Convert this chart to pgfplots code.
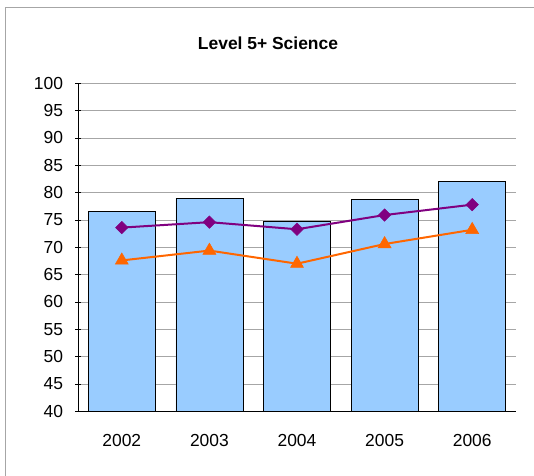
\documentclass[border=0pt]{standalone}
\usepackage{fontspec}
\setmainfont{Liberation Sans}
\usepackage{pgfplots}
\pgfplotsset{compat=1.18}
\definecolor{barblue}{RGB}{153,204,255}
\definecolor{kspurple}{RGB}{128,0,128}
\definecolor{ksorange}{RGB}{255,102,0}
\begin{document}
\begin{tikzpicture}[x=1bp,y=1bp]
  \begin{axis}[
    at={(78bp,64.7bp)}, anchor=south west,
    scale only axis,
    width=438bp, height=328bp,
    xmin=-0.5, xmax=4.5,
    ymin=40, ymax=100,
    ytick={40,45,...,100},
    xtick={0,1,2,3,4},
    xticklabels={2002,2003,2004,2005,2006},
    extra x ticks={-0.5,0.5,1.5,2.5,3.5,4.5},
    extra x tick labels={},
    extra x tick style={major tick length=7bp, tick style={black, line width=0.8bp}},
    x tick style={draw=none},
    y tick style={black, line width=0.8bp},
    major tick length=5bp,
    tick align=outside,
    axis x line=bottom, axis y line=left,
    axis line style={-, black, line width=0.8bp},
    ymajorgrids,
    grid style={gray!70, line width=0.7bp},
    /pgf/number format/assume math mode=true,
    tick label style={font=\fontsize{17.5}{20}\selectfont},
    xticklabel style={yshift=-17bp},
    yticklabel style={xshift=-9bp},
  ]
    \addplot[ybar, bar width=67bp, fill=barblue, draw=black, line width=0.7bp] coordinates {
      (0,76.6) (1,79.0) (2,74.8) (3,78.7) (4,82.1)
    };
    \addplot[kspurple, line width=2bp, mark=square*, mark size=4.4bp, mark options={rotate=45, fill=kspurple, draw=kspurple, line width=0.5bp}] coordinates {
      (0,73.6) (1,74.6) (2,73.3) (3,75.9) (4,77.8)
    };
    \addplot[ksorange, line width=2bp, mark=triangle*, mark size=7.5bp, mark options={fill=ksorange, draw=ksorange, line width=0.5bp}] coordinates {
      (0,67.6) (1,69.4) (2,67.0) (3,70.6) (4,73.2)
    };
  \end{axis}
  \node[font=\bfseries\fontsize{17.5}{20}\selectfont] at (268bp,432.7bp) {Level 5+ Science};
  \draw[gray!70, line width=1bp] (5bp,-10bp) rectangle (545bp,468bp);
  \pgfresetboundingbox
  \path[use as bounding box] (0,0) rectangle (534bp,476bp);
\end{tikzpicture}
\end{document}
